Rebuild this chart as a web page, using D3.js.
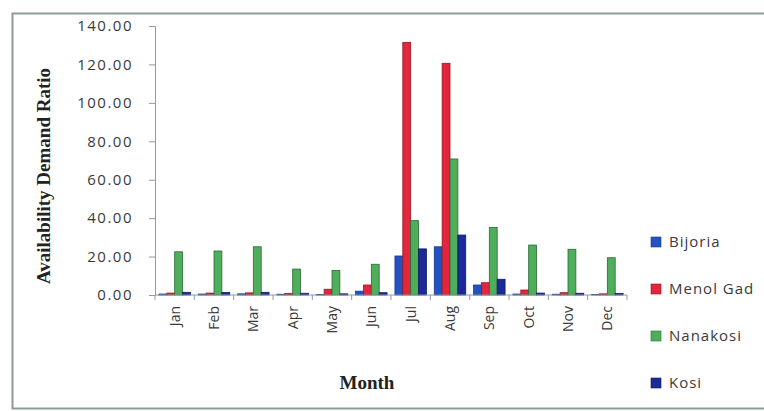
<!DOCTYPE html>
<html>
<head>
<meta charset="utf-8">
<script src="https://cdn.jsdelivr.net/npm/d3@7"></script>
<style>
  html, body { margin: 0; padding: 0; background: #fff; }
  svg { display: block; }
</style>
</head>
<body>
<svg id="chart" width="764" height="411"></svg>
<script>
// Monthly availability / demand ratio for four catchments
const months = ["Jan","Feb","Mar","Apr","May","Jun","Jul","Aug","Sep","Oct","Nov","Dec"];
const seriesNames = ["Bijoria","Menol Gad","Nanakosi","Kosi"];
const bijoria  = [0.5, 0.5, 0.6, 0.4, 0.3, 2.0, 20.3, 25.1, 5.2, 0.5, 0.4, 0.3];
const menolGad = [1.0, 1.0, 1.1, 0.8, 3.0, 5.2, 131.5, 120.6, 6.4, 2.6, 1.2, 0.6];
const nanakosi = [22.5, 22.9, 25.1, 13.5, 12.7, 16.0, 38.7, 70.8, 35.2, 26.0, 23.8, 19.4];
const kosi     = [1.4, 1.3, 1.4, 0.9, 0.6, 1.2, 24.0, 31.2, 8.2, 1.0, 0.9, 0.8];
const yTicks = [0, 20, 40, 60, 80, 100, 120, 140];

const seriesValues = [bijoria, menolGad, nanakosi, kosi];
const fills   = ["#2352c2", "#e3263b", "#4fae5c", "#1b2a98"];
const strokes = ["#1a3a8a", "#8a1a24", "#2a6a34", "#111a60"];

const svg = d3.select("#chart");

// outer frame
svg.append("rect")
  .attr("x", 12.5).attr("y", 13.5)
  .attr("width", 770).attr("height", 395)
  .attr("fill", "#fff")
  .attr("stroke", "#8e9c94").attr("stroke-width", 2);

const plot = { left: 155, right: 627, top: 26, bottom: 295 };

const x0 = d3.scaleBand().domain(months).range([plot.left, plot.right]).padding(0);
const x1 = d3.scaleBand().domain(seriesNames).range([0, x0.bandwidth()])
  .paddingInner(0).paddingOuter(0.5);
const y = d3.scaleLinear().domain([0, 140]).range([plot.bottom, plot.top]);

const axisColor = "#8b9bab";
const labelFont = "'Open Sans', 'DejaVu Sans', sans-serif";
const titleFont = "'Liberation Serif', 'DejaVu Serif', serif";

// bars
const rows = months.map((m, i) => ({ month: m, vals: seriesNames.map((s, k) => ({ s, k, v: seriesValues[k][i] })) }));
const groups = svg.append("g").selectAll("g").data(rows).join("g")
  .attr("transform", d => `translate(${x0(d.month)},0)`);
groups.selectAll("rect").data(d => d.vals).join("rect")
  .attr("x", d => x1(d.s))
  .attr("y", d => y(d.v))
  .attr("width", x1.bandwidth())
  .attr("height", d => y(0) - y(d.v))
  .attr("fill", d => fills[d.k])
  .attr("stroke", d => strokes[d.k])
  .attr("stroke-width", 0.8);

// y axis
const yAxis = svg.append("g")
  .attr("transform", `translate(${plot.left},0)`)
  .call(d3.axisLeft(y).tickValues(yTicks).tickFormat(d3.format(".2f")).tickSize(6).tickPadding(16));
yAxis.select(".domain").attr("stroke", axisColor);
yAxis.selectAll(".tick line").attr("stroke", axisColor);
yAxis.selectAll(".tick text")
  .attr("fill", "#3a3a3a")
  .style("font-family", labelFont)
  .style("font-size", "15px")
  .style("letter-spacing", "1.5px");

// x axis with ticks on category boundaries
const xAxisG = svg.append("g").attr("transform", `translate(0,${plot.bottom})`);
xAxisG.append("line")
  .attr("x1", plot.left).attr("x2", plot.right)
  .attr("stroke", axisColor);
const boundaries = months.map(m => x0(m)).concat([plot.right]);
xAxisG.selectAll("line.tk").data(boundaries).join("line")
  .attr("class", "tk")
  .attr("x1", d => d).attr("x2", d => d)
  .attr("y1", 0).attr("y2", 5)
  .attr("stroke", axisColor);
xAxisG.selectAll("text").data(months).join("text")
  .attr("transform", d => `translate(${x0(d) + x0.bandwidth() / 2 + 5},${11}) rotate(-90)`)
  .attr("text-anchor", "end")
  .attr("fill", "#3a3a3a")
  .style("font-family", labelFont)
  .style("font-size", "14px")
  .text(d => d);

// axis titles
svg.append("text")
  .attr("transform", `translate(50,176) rotate(-90)`)
  .attr("text-anchor", "middle")
  .style("font-family", titleFont)
  .style("font-weight", "bold")
  .style("font-size", "19px")
  .attr("fill", "#222")
  .text("Availability Demand Ratio");

svg.append("text")
  .attr("x", 367).attr("y", 389)
  .attr("text-anchor", "middle")
  .style("font-family", titleFont)
  .style("font-weight", "bold")
  .style("font-size", "19px")
  .attr("fill", "#222")
  .text("Month");

// legend
const legendY = d3.scalePoint().domain(seriesNames).range([242, 383]);
const legend = svg.append("g").selectAll("g").data(seriesNames).join("g")
  .attr("transform", d => `translate(651,${legendY(d)})`);
legend.append("rect")
  .attr("x", 0).attr("y", -5).attr("width", 10).attr("height", 10)
  .attr("fill", (d, i) => fills[i])
  .attr("stroke", (d, i) => strokes[i]).attr("stroke-width", 0.6);
legend.append("text")
  .attr("x", 18).attr("y", 0).attr("dy", "0.35em")
  .attr("fill", "#3a3a3a")
  .style("font-family", labelFont)
  .style("font-size", "15px")
  .style("letter-spacing", "1px")
  .text(d => d);
</script>
</body>
</html>
